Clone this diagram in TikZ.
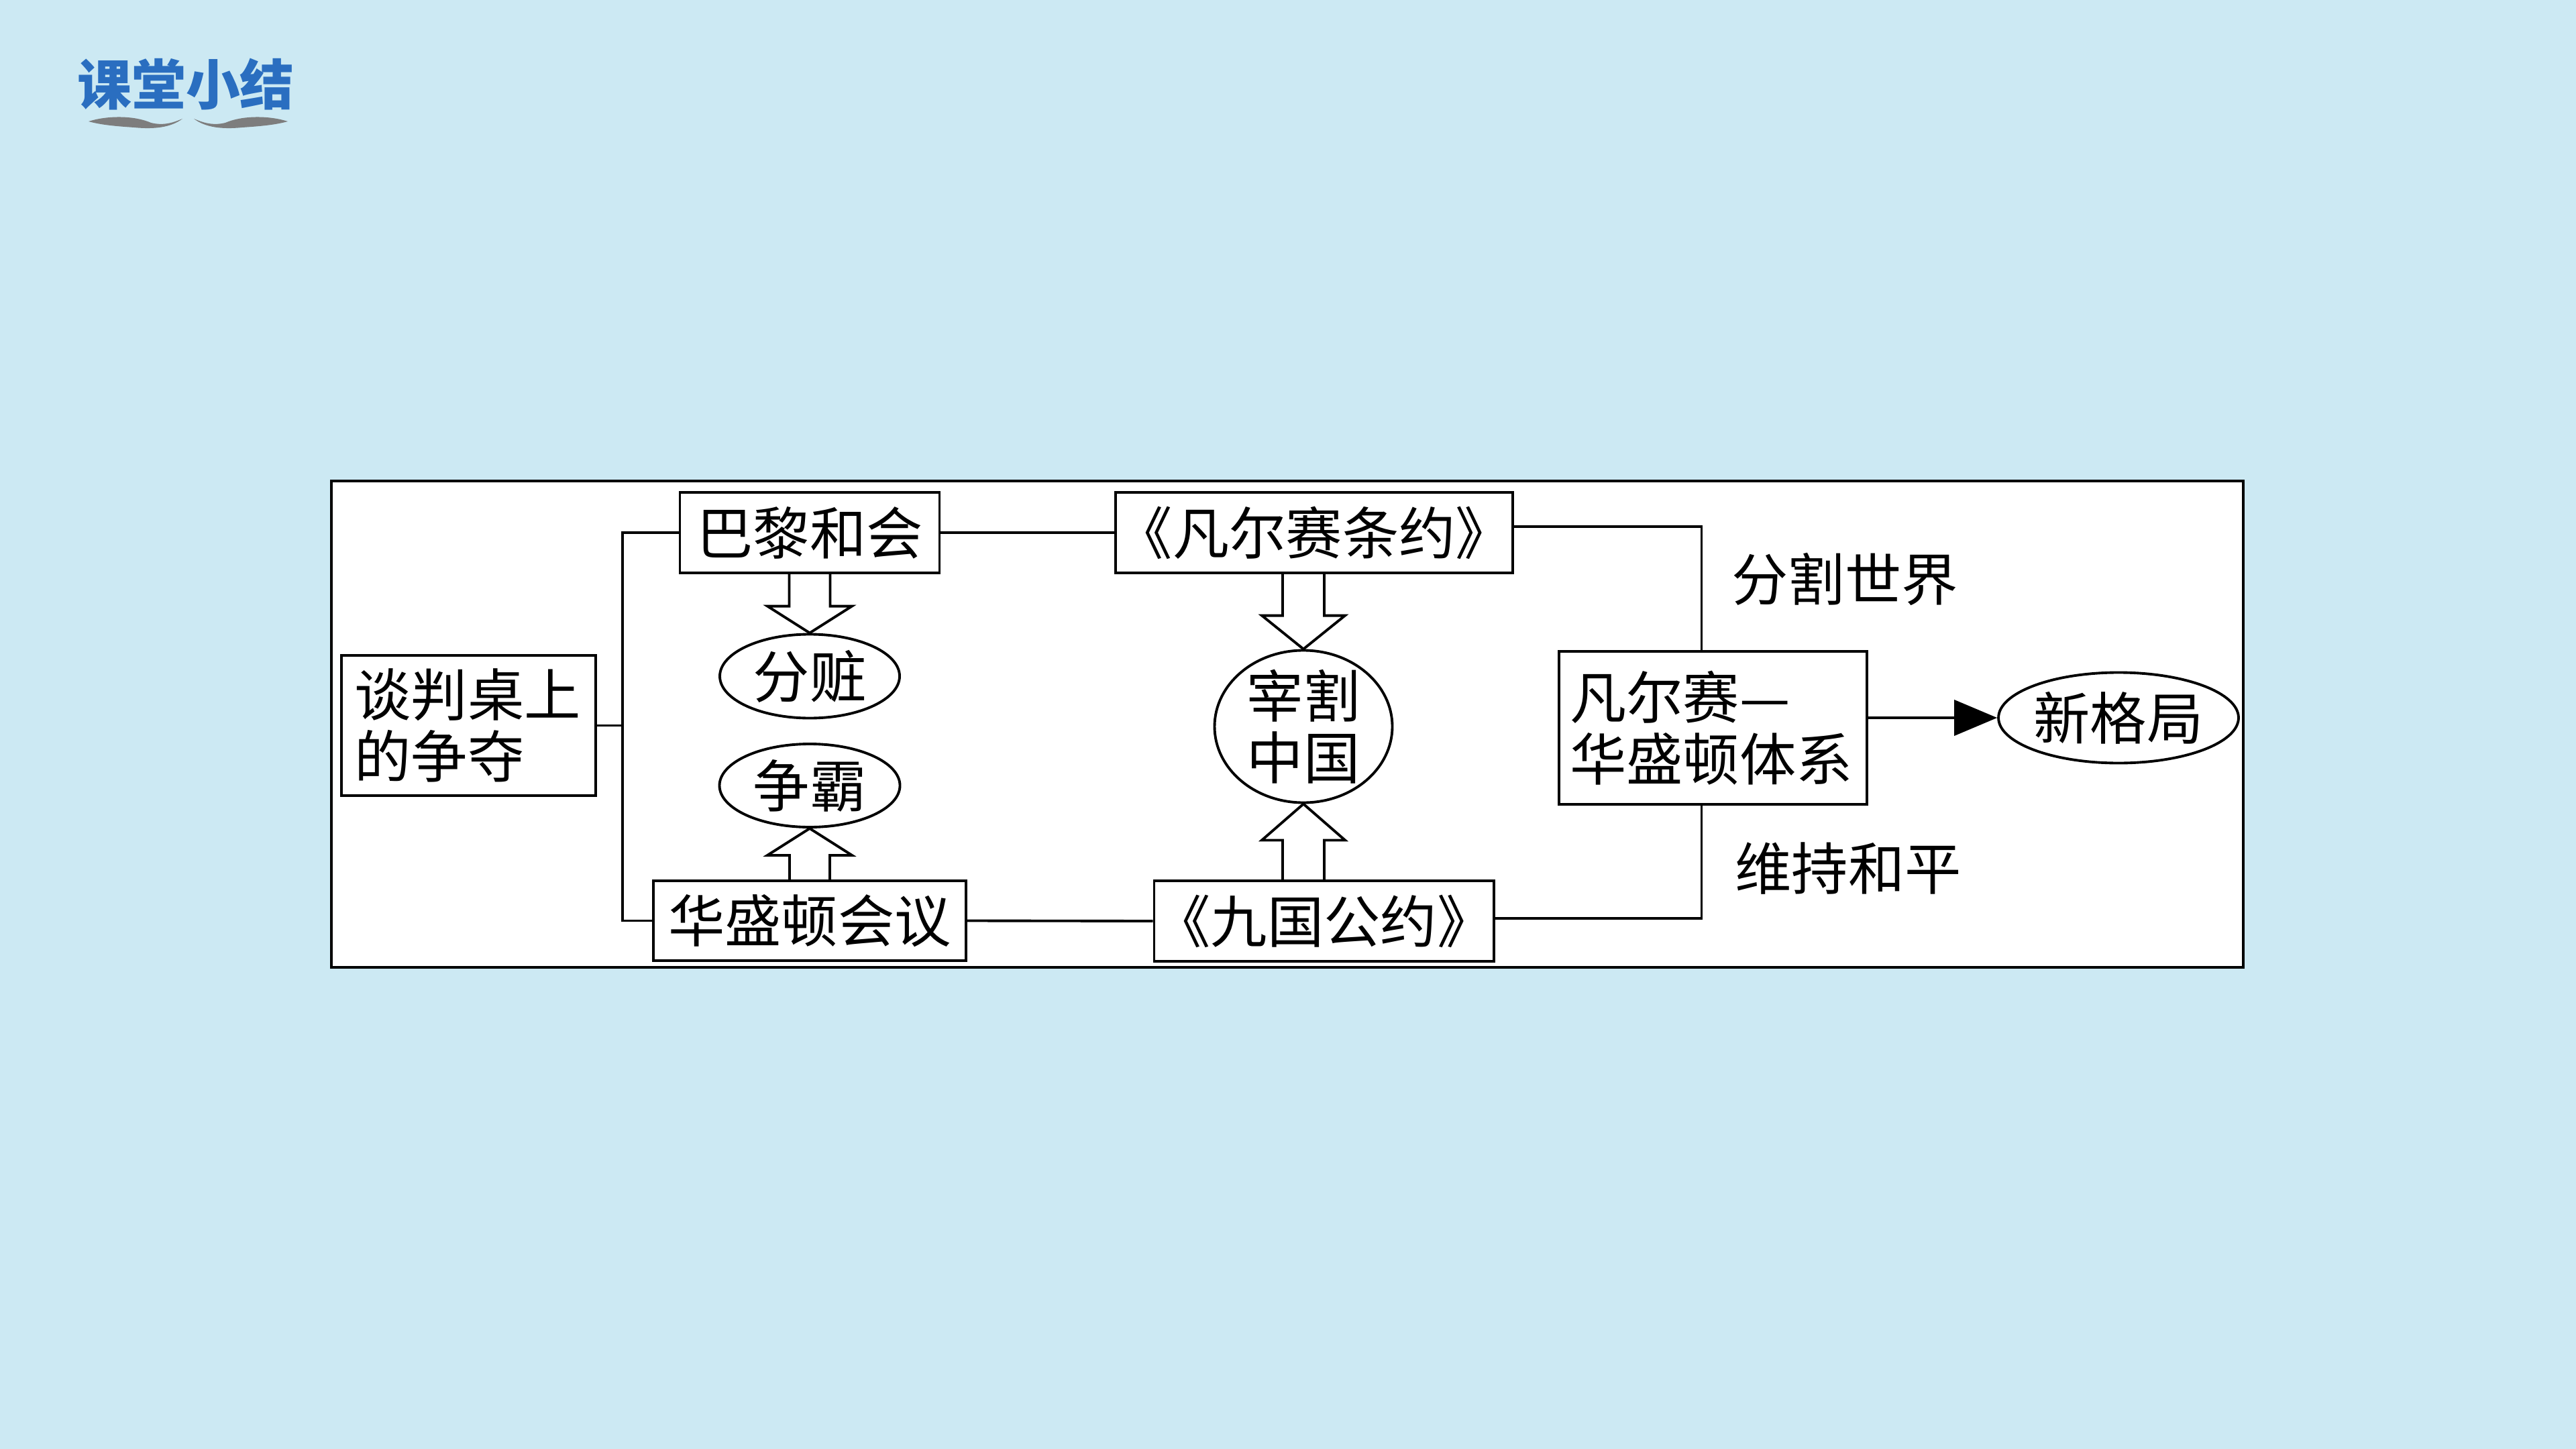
\documentclass[tikz,border=0pt]{standalone}
\usepackage{fontspec}
\newfontfamily\cjk{Noto Sans CJK SC}
\usetikzlibrary{positioning, arrows.meta, shapes.geometric, calc}
\definecolor{slidebg}{RGB}{204,233,243}
\definecolor{titleblue}{RGB}{42,110,192}
\definecolor{swooshgray}{RGB}{125,125,125}

\begin{document}
\begin{tikzpicture}[
    box/.style={draw, line width=1.1pt, fill=white, inner sep=0pt,
                font=\cjk\fontsize{24}{26.2}\selectfont},
    oval/.style={box, ellipse},
    plain/.style={inner sep=0pt, font=\cjk\fontsize{24}{26.2}\selectfont},
    hollow/.style={draw, line width=1.1pt},
    link/.style={line width=1.1pt}]
  % slide background
  \fill[slidebg] (0,0) rectangle (38.4,-21.6);
  \useasboundingbox (0,0) rectangle (38.4,-21.6);

  % title with swooshes
  \node[inner sep=0pt, text=titleblue, font=\cjk\bfseries\fontsize{23}{26}\selectfont]
    (title) at (2.77,-1.26) {课堂小结};
  \fill[swooshgray] (1.32,-1.81) .. controls (1.6,-1.72) and (2.0,-1.72) .. (2.25,-1.83)
    .. controls (2.45,-1.88) and (2.6,-1.82) .. (2.72,-1.77)
    .. controls (2.55,-1.90) and (2.3,-1.93) .. (2.0,-1.90)
    .. controls (1.7,-1.88) and (1.5,-1.86) .. (1.32,-1.81) -- cycle;
  \fill[swooshgray] (4.29,-1.81) .. controls (4.01,-1.72) and (3.61,-1.72) .. (3.36,-1.83)
    .. controls (3.16,-1.88) and (3.01,-1.82) .. (2.89,-1.77)
    .. controls (3.06,-1.90) and (3.31,-1.93) .. (3.61,-1.90)
    .. controls (3.91,-1.88) and (4.11,-1.86) .. (4.29,-1.81) -- cycle;

  % frame
  \draw[line width=1.1pt, fill=white] (4.94,-7.17) rectangle (33.44,-14.42);

  % nodes
  \node[box, minimum width=3.79cm, minimum height=2.09cm, align=left, text width=3.4cm]
    (tp) at (6.985,-10.815) {谈判桌上\\的争夺};
  \node[box, minimum width=3.87cm, minimum height=1.2cm] (pl) at (12.07,-7.94) {巴黎和会};
  \node[oval, minimum width=2.68cm, minimum height=1.25cm] (fz) at (12.07,-10.08) {分赃};
  \node[oval, minimum width=2.69cm, minimum height=1.24cm] (zb) at (12.07,-11.71) {争霸};
  \node[box, minimum width=4.66cm, minimum height=1.19cm] (hs) at (12.07,-13.725) {华盛顿会议};
  \node[box, minimum width=5.92cm, minimum height=1.2cm] (fy) at (19.59,-7.94) {《凡尔赛条约》};
  \node[oval, minimum width=2.65cm, minimum height=2.27cm, inner ysep=-0.09cm, align=center]
    (zg) at (19.43,-10.83) {宰割\\中国};
  \node[box, minimum width=5.01cm, minimum height=1.2cm] (jg) at (19.735,-13.73) {《九国公约》};
  \node[box, minimum width=4.59cm, minimum height=2.28cm, align=left, text width=4.27cm]
    (tx) at (25.535,-10.85) {凡尔赛—\\华盛顿体系};
  \node[oval, minimum width=3.5cm, minimum height=1.35cm] (xg) at (31.58,-10.70) {新格局};
  \node[plain] (fs) at (27.50,-8.63) {分割世界};
  \node[plain] (wc) at (27.55,-12.95) {维持和平};

  % connectors
  \coordinate (br) at (9.28,-10.815);
  \draw[link] (tp.east) -- (br);
  \draw[link] (pl.west) -| (br) |- (hs.west);
  \draw[link] (pl.east) -- (fy.west);
  \draw[link] (hs.east) -- (jg.west);
  \draw[link] ($(fy.east)+(0,0.09)$) -| ($(tx.north)+(-0.17,0)$);
  \draw[link] ($(jg.east)+(0,0.04)$) -| ($(tx.south)+(-0.17,0)$);
  \draw[link, -{Triangle[length=6.4mm, width=5.3mm]}] (tx.east |- xg.west) -- (xg.west);

  % hollow arrows
  \draw[hollow] ($(pl.south -| fz.north)+(-0.305,0)$) -- ($(fz.north)+(-0.305,0.4)$)
    -- ($(fz.north)+(-0.63,0.4)$) -- (fz.north) -- ($(fz.north)+(0.63,0.4)$)
    -- ($(fz.north)+(0.305,0.4)$) -- ($(pl.south -| fz.north)+(0.305,0)$);
  \draw[hollow] ($(hs.north -| zb.south)+(-0.30,0)$) -- ($(zb.south)+(-0.30,-0.4)$)
    -- ($(zb.south)+(-0.63,-0.4)$) -- (zb.south) -- ($(zb.south)+(0.63,-0.4)$)
    -- ($(zb.south)+(0.30,-0.4)$) -- ($(hs.north -| zb.south)+(0.30,0)$);
  \draw[hollow] ($(fy.south -| zg.north)+(-0.31,0)$) -- ($(zg.north)+(-0.31,0.5)$)
    -- ($(zg.north)+(-0.62,0.5)$) -- (zg.north) -- ($(zg.north)+(0.62,0.5)$)
    -- ($(zg.north)+(0.31,0.5)$) -- ($(fy.south -| zg.north)+(0.31,0)$);
  \draw[hollow] ($(jg.north -| zg.south)+(-0.31,0)$) -- ($(zg.south)+(-0.31,-0.54)$)
    -- ($(zg.south)+(-0.62,-0.54)$) -- (zg.south) -- ($(zg.south)+(0.62,-0.54)$)
    -- ($(zg.south)+(0.31,-0.54)$) -- ($(jg.north -| zg.south)+(0.31,0)$);
\end{tikzpicture}
\end{document}
